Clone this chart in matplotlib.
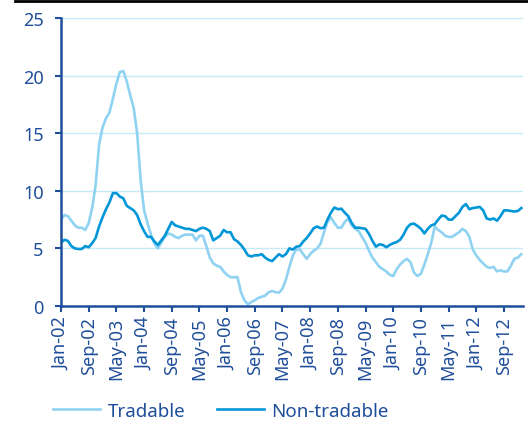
import numpy as np
import matplotlib
matplotlib.use("Agg")
import matplotlib.pyplot as plt
from matplotlib.lines import Line2D

# monthly data, Jan-02 onwards
tradable = [
    7.5, 7.9, 7.8, 7.4, 7.0, 6.8, 6.8, 6.6, 7.2, 8.5,
    10.5, 14.0, 15.5, 16.3, 16.8, 18.0, 19.3, 20.3, 20.4, 19.5,
    18.3, 17.2, 15.0, 11.0, 8.3, 7.2, 6.2, 5.4, 5.0, 5.5,
    6.0, 6.3, 6.2, 6.0, 5.9, 6.1, 6.2, 6.2, 6.2, 5.7,
    6.1, 6.1, 5.2, 4.2, 3.7, 3.5, 3.4, 3.0, 2.7, 2.5,
    2.5, 2.5, 1.2, 0.5, 0.15, 0.35, 0.5, 0.7, 0.8, 0.9,
    1.2, 1.3, 1.2, 1.15, 1.5, 2.3, 3.4, 4.4, 4.9, 4.9,
    4.5, 4.1, 4.5, 4.8, 5.0, 5.4, 6.4, 7.3, 7.7, 7.2,
    6.8, 6.8, 7.3, 7.6, 7.0, 6.7, 6.5, 6.0, 5.5, 4.8,
    4.2, 3.8, 3.4, 3.2, 3.0, 2.7, 2.6, 3.2, 3.6, 3.9,
    4.1, 3.8, 2.9, 2.6, 2.8, 3.6, 4.5, 5.5, 6.9, 6.6,
    6.4, 6.1, 6.0, 6.0, 6.2, 6.4, 6.7, 6.5, 6.0, 4.9,
    4.4, 4.0, 3.7, 3.4, 3.3, 3.4, 3.0, 3.1, 3.0, 3.0,
    3.5, 4.1, 4.2, 4.5,
]
non_tradable = [
    5.5, 5.75, 5.65, 5.2, 5.0, 4.95, 4.95, 5.2, 5.1, 5.45,
    5.9, 6.9, 7.7, 8.4, 9.0, 9.8, 9.8, 9.5, 9.35, 8.7,
    8.5, 8.3, 7.9, 7.1, 6.5, 6.0, 6.0, 5.6, 5.3, 5.7,
    6.1, 6.7, 7.3, 7.0, 6.9, 6.8, 6.7, 6.7, 6.6, 6.5,
    6.7, 6.8, 6.7, 6.5, 5.7, 5.9, 6.1, 6.6, 6.4, 6.4,
    5.8, 5.6, 5.3, 4.9, 4.4, 4.3, 4.4, 4.4, 4.5, 4.2,
    4.0, 3.9, 4.2, 4.5, 4.3, 4.5, 5.0, 4.9, 5.15, 5.2,
    5.6, 5.9, 6.3, 6.75, 6.9, 6.75, 6.8, 7.5, 8.1, 8.55,
    8.4, 8.45, 8.1, 7.8, 7.2, 6.8, 6.8, 6.75, 6.7, 6.25,
    5.65, 5.15, 5.35, 5.3, 5.1, 5.3, 5.45, 5.55, 5.75, 6.2,
    6.8, 7.1, 7.15, 6.95, 6.7, 6.3, 6.7, 7.0, 7.1, 7.5,
    7.85, 7.8, 7.5, 7.5, 7.8, 8.1, 8.6, 8.85, 8.4, 8.5,
    8.55, 8.6, 8.3, 7.6, 7.5, 7.6, 7.4, 7.8, 8.3, 8.3,
    8.25, 8.2, 8.25, 8.5,
]
tick_labels = ["Jan-02", "Sep-02", "May-03", "Jan-04", "Sep-04", "May-05",
               "Jan-06", "Sep-06", "May-07", "Jan-08", "Sep-08", "May-09",
               "Jan-10", "Sep-10", "May-11", "Jan-12", "Sep-12"]

navy = "#1f4e9a"
light = "#8fd2f2"
dark = "#0096d8"

plt.rcParams['font.family'] = ['Noto Sans', 'DejaVu Sans']

fig = plt.figure(figsize=(5.28, 4.35), dpi=100)
ax = fig.add_axes([61 / 528, 1 - 307 / 435, 462 / 528, 288 / 435])

x = np.arange(len(tradable))
ax.plot(x, tradable, color=light, lw=1.9, label="Tradable")
ax.plot(x, non_tradable, color=dark, lw=1.9, label="Non-tradable")

ax.set_ylim(0, 25)
ax.set_xlim(0, len(tradable) - 0.5)
ax.set_yticks(range(0, 26, 5))
ax.set_xticks(range(0, 8 * len(tick_labels), 8))
ax.set_xticklabels(tick_labels, rotation=90)
ax.grid(axis="y", color="#c6eaf8", lw=1)
ax.set_axisbelow(True)

for s in ["top", "right"]:
    ax.spines[s].set_visible(False)
for s in ["left", "bottom"]:
    ax.spines[s].set_color(navy)
    ax.spines[s].set_linewidth(1.8)
ax.tick_params(axis="both", colors=navy, labelsize=13, length=4.5, width=1.5)
ax.tick_params(axis="y", pad=8)
ax.tick_params(axis="x", pad=3)

# black rule on top
fig.add_artist(Line2D([15 / 528, 1], [1 - 2 / 435, 1 - 2 / 435], color="black", lw=2))

leg = fig.legend(loc="center", bbox_to_anchor=(221 / 528, 1 - 412 / 435), ncol=2,
                 frameon=False, fontsize=13.5, handlelength=2.5, columnspacing=1.7,
                 handletextpad=0.4)
for t in leg.get_texts():
    t.set_color(navy)

fig.savefig("out.png", dpi=100)
